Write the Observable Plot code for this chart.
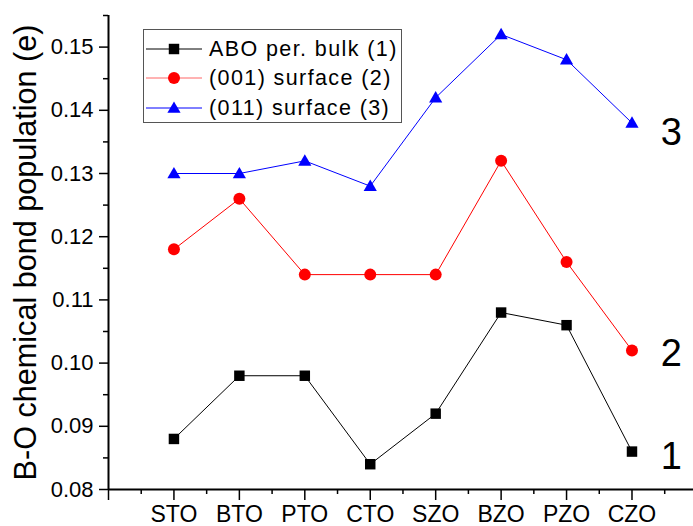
<!DOCTYPE html>
<html><head><meta charset="utf-8">
<script src="https://cdn.jsdelivr.net/npm/d3@7"></script>
<script src="https://cdn.jsdelivr.net/npm/@observablehq/plot@0.6"></script>
<style>
body{margin:0;background:#fff;font-family:"Liberation Sans",Arial,sans-serif;}
#wrap{position:relative;width:693px;height:526px;overflow:hidden;}
#legend{position:absolute;left:143px;top:29px;width:257px;height:92px;border:1px solid #555;background:#fff;}
.row{position:absolute;left:0;height:30px;display:flex;align-items:center;white-space:nowrap;}
.row span{font-size:21.5px;letter-spacing:1.4px;color:#000;margin-left:5px;}
.row svg{display:block;}
</style></head><body><div id="wrap"></div>
<script>
const compounds = ["STO","BTO","PTO","CTO","SZO","BZO","PZO","CZO"];
const bulk    = [0.088,0.098,0.098,0.084,0.092,0.108,0.106,0.086];
const surf001 = [0.118,0.126,0.114,0.114,0.114,0.132,0.116,0.102];
const surf011 = [0.130,0.130,0.132,0.128,0.142,0.152,0.148,0.138];
const seriesNames = ["ABO per. bulk (1)","(001) surface (2)","(011) surface (3)"];
const seriesColors = ["#000000","#ff0000","#0000ff"];
const seriesSymbols = ["square","circle","triangle"];
const seriesValues = [bulk, surf001, surf011];
const yTicks = [0.08,0.09,0.10,0.11,0.12,0.13,0.14,0.15];
const yMinor = [0.085,0.095,0.105,0.115,0.125,0.135,0.145,0.155];
const xMajor = [0,1,2,3,4,5,6,7,8];
const xMinor = [0.5,1.5,2.5,3.5,4.5,5.5,6.5,7.5,8.5];
const endLabels = ["1","2","3"];
const endLabelY = [0.0851,0.1015,0.1365];
const endLabelX = 8.6;
const yTitle = "B-O chemical bond population (e)";

const symR = {square: 5.9, circle: 6, triangle: 4.9};
const symDy = {square: 0, circle: 0, triangle: 1};

const rows = [];
seriesValues.forEach((vals, i) => vals.forEach((v, j) => rows.push({s: i, x: j + 1, y: v})));

const marks = [];
seriesValues.forEach((vals, i) => {
  const d = rows.filter(r => r.s === i);
  marks.push(Plot.line(d, {x: "x", y: "y", stroke: seriesColors[i], strokeWidth: 1}));
});
seriesValues.forEach((vals, i) => {
  const d = rows.filter(r => r.s === i);
  const sym = seriesSymbols[i];
  marks.push(Plot.dot(d, {x: "x", y: "y", symbol: sym, r: symR[sym], dy: symDy[sym], fill: seriesColors[i], stroke: "none"}));
});

const plot = Plot.plot({
  width: 693,
  height: 526,
  marginLeft: 108,
  marginRight: 0,
  marginTop: 15,
  marginBottom: 37,
  style: {fontFamily: '"Liberation Sans", Arial, sans-serif', color: "#000", background: "#fff"},
  x: {domain: [0, 8.94]},
  y: {domain: [0.08, 0.155]},
  marks: [
    Plot.axisY(yTicks, {tickSize: 9, tickPadding: 6, tickFormat: d3.format(".2f"), fontSize: 22, label: null, strokeWidth: 1.5}),
    Plot.axisY(yMinor, {tickSize: 5, text: null, label: null, strokeWidth: 1.5}),
    Plot.axisX(xMajor, {tickSize: 11, tickPadding: 5, tickFormat: i => compounds[i - 1] ?? "", fontSize: 23, label: null, strokeWidth: 1.5}),
    Plot.axisX(xMinor, {tickSize: 5, text: null, label: null, strokeWidth: 1.5}),
    Plot.ruleX([0], {strokeWidth: 2}),
    Plot.ruleY([0.08], {strokeWidth: 2}),
    ...marks,
    Plot.text(endLabels, {x: () => endLabelX, y: (d, i) => endLabelY[i], text: d => d, fontSize: 38, lineAnchor: "middle", textAnchor: "middle"}),
    Plot.text([yTitle], {frameAnchor: "left", rotate: -90, dx: -82, text: d => d, fontSize: 30.6, lineAnchor: "middle", textAnchor: "middle"})
  ]
});

const wrap = document.getElementById("wrap");
wrap.appendChild(plot);

const legend = document.createElement("div");
legend.id = "legend";
const rowTops = [4, 33, 63];
seriesNames.forEach((name, i) => {
  const row = document.createElement("div");
  row.className = "row";
  row.style.top = rowTops[i] + "px";
  const svg = d3.create("svg").attr("width", 60).attr("height", 30);
  svg.append("line").attr("x1", 2).attr("x2", 58).attr("y1", 15).attr("y2", 15)
    .attr("stroke", seriesColors[i]).attr("stroke-width", 1).attr("stroke-opacity", i === 1 ? 0.6 : 1);
  const sym = seriesSymbols[i];
  const symType = sym === "square" ? d3.symbolSquare : sym === "circle" ? d3.symbolCircle : d3.symbolTriangle;
  svg.append("path").attr("d", d3.symbol(symType, symR[sym] * symR[sym] * Math.PI)())
    .attr("transform", `translate(30,${15 + symDy[sym]})`).attr("fill", seriesColors[i]);
  row.appendChild(svg.node());
  const span = document.createElement("span");
  span.textContent = name;
  row.appendChild(span);
  legend.appendChild(row);
});
wrap.appendChild(legend);
</script></body></html>
